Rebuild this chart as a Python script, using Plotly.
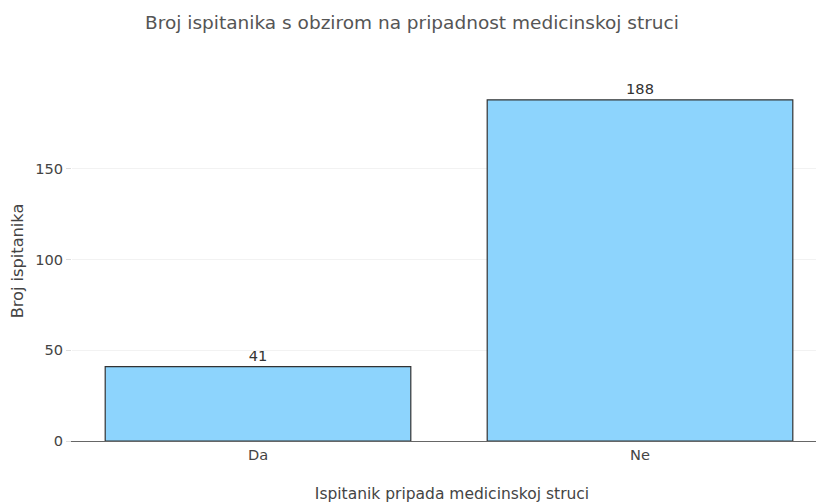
import plotly.graph_objects as go

categories = ["Da", "Ne"]
values = [41, 188]
title_text = "Broj ispitanika s obzirom na pripadnost medicinskoj struci"
x_title = "Ispitanik pripada medicinskoj struci"
y_title = "Broj ispitanika"

fig = go.Figure(go.Bar(
    x=categories, y=values, text=values, textposition="outside",
    marker=dict(color="#8DD4FD", line=dict(color="#333333", width=1.2)),
    textfont=dict(color="#333333", size=14.6),
    cliponaxis=False,
))
fig.update_layout(
    width=824, height=502,
    margin=dict(l=64, r=0, t=72.6, b=69),
    paper_bgcolor="white", plot_bgcolor="white",
    font=dict(family="DejaVu Sans, Verdana, sans-serif", size=14.6, color="#444444"),
    title=dict(text=title_text, x=0.4903, xanchor="center", y=0.972, yanchor="middle",
               font=dict(size=18.5, color="#555555")),
    bargap=0.2,
    showlegend=False,
)
fig.update_xaxes(range=[-0.4869, 1.5026], showline=True, linecolor="#666666", linewidth=1.2,
                 title=dict(text=x_title, standoff=26, font=dict(size=15.5)),
                 showgrid=False, ticks="", automargin=False)
fig.update_yaxes(range=[0, 198.4], tickvals=[0, 50, 100, 150], showgrid=True,
                 gridcolor="#F2F2F2", zeroline=True, zerolinecolor="#666666", zerolinewidth=1.2,
                 showline=True, linecolor="white", linewidth=1,
                 ticks="outside", ticklen=5, tickcolor="#dddddd",
                 title=dict(text=y_title, standoff=9, font=dict(size=16.2)), automargin=False)
fig.write_html("out.html")
